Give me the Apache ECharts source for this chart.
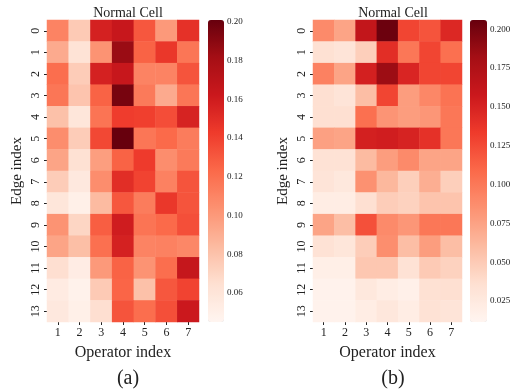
<!DOCTYPE html>
<html>
<head>
<meta charset="utf-8">
<script src="https://cdn.jsdelivr.net/npm/echarts@6/dist/echarts.min.js"></script>
<style>
  html, body { margin: 0; padding: 0; background: #fff; }
  #chart { width: 514px; height: 390px; }
</style>
</head>
<body>
<div id="chart"></div>
<script>
const operators = ['1', '2', '3', '4', '5', '6', '7'];
const edges = ['0', '1', '2', '3', '4', '5', '6', '7', '8', '9', '10', '11', '12', '13'];

// (a) rows = edge 0..13, columns = operator 1..7
const cellA = [
  [0.111, 0.076, 0.157, 0.164, 0.131, 0.100, 0.148],
  [0.092, 0.062, 0.103, 0.185, 0.126, 0.145, 0.117],
  [0.121, 0.075, 0.157, 0.164, 0.111, 0.111, 0.132],
  [0.117, 0.079, 0.126, 0.196, 0.115, 0.092, 0.117],
  [0.081, 0.059, 0.118, 0.142, 0.141, 0.135, 0.156],
  [0.106, 0.075, 0.137, 0.201, 0.117, 0.123, 0.114],
  [0.095, 0.064, 0.098, 0.126, 0.143, 0.106, 0.115],
  [0.075, 0.057, 0.106, 0.150, 0.139, 0.112, 0.132],
  [0.059, 0.050, 0.084, 0.131, 0.114, 0.145, 0.132],
  [0.103, 0.070, 0.128, 0.160, 0.118, 0.123, 0.134],
  [0.095, 0.082, 0.120, 0.157, 0.111, 0.112, 0.109],
  [0.065, 0.053, 0.100, 0.126, 0.103, 0.121, 0.165],
  [0.054, 0.048, 0.076, 0.125, 0.081, 0.131, 0.139],
  [0.057, 0.050, 0.065, 0.132, 0.121, 0.134, 0.162]
];

// (b)
const cellB = [
  [0.089, 0.074, 0.163, 0.204, 0.128, 0.120, 0.146],
  [0.035, 0.031, 0.047, 0.142, 0.101, 0.128, 0.105],
  [0.095, 0.074, 0.152, 0.185, 0.148, 0.128, 0.128],
  [0.036, 0.031, 0.058, 0.128, 0.078, 0.091, 0.103],
  [0.036, 0.036, 0.105, 0.083, 0.078, 0.082, 0.101],
  [0.076, 0.074, 0.152, 0.154, 0.150, 0.140, 0.101],
  [0.033, 0.033, 0.060, 0.078, 0.089, 0.074, 0.074],
  [0.031, 0.027, 0.085, 0.062, 0.047, 0.068, 0.047],
  [0.021, 0.021, 0.036, 0.048, 0.045, 0.054, 0.054],
  [0.074, 0.058, 0.122, 0.089, 0.082, 0.101, 0.101],
  [0.033, 0.029, 0.048, 0.087, 0.058, 0.078, 0.058],
  [0.019, 0.019, 0.052, 0.052, 0.033, 0.050, 0.045],
  [0.015, 0.015, 0.027, 0.021, 0.017, 0.035, 0.036],
  [0.015, 0.015, 0.021, 0.028, 0.021, 0.033, 0.031]
];

const rangeA = [0.045, 0.201];
const rangeB = [0.0115, 0.206];
const ticksA = [0.06, 0.08, 0.10, 0.12, 0.14, 0.16, 0.18, 0.20];
const ticksB = [0.025, 0.05, 0.075, 0.1, 0.125, 0.15, 0.175, 0.2];

const reds = ['#fff5f0', '#fee0d2', '#fcbba1', '#fc9272', '#fb6a4a', '#ef3b2c', '#cb181d', '#a50f15', '#67000d'];
const font = 'Liberation Serif, Times New Roman, serif';

function toCells(matrix) {
  const out = [];
  matrix.forEach((row, r) => {
    row.forEach((v, c) => out.push([c, r, v]));
  });
  return out;
}

const chart = echarts.init(document.getElementById('chart'), null, { renderer: 'canvas' });

const heatX = {
  type: 'category',
  data: operators,
  axisLine: { show: false },
  axisTick: { show: true, alignWithLabel: true, length: 3, lineStyle: { color: '#222' } },
  axisLabel: { color: '#222', fontFamily: font, fontSize: 12, margin: 5 },
  splitArea: { show: false },
  name: 'Operator index',
  nameLocation: 'middle',
  nameGap: 23,
  nameTextStyle: { color: '#222', fontFamily: font, fontSize: 16 }
};
const heatY = {
  type: 'category',
  data: edges,
  inverse: true,
  axisLine: { show: false },
  axisTick: { show: true, alignWithLabel: true, length: 3, lineStyle: { color: '#222' } },
  axisLabel: { color: '#222', fontFamily: font, fontSize: 12, rotate: 90, margin: 5 },
  name: 'Edge index',
  nameLocation: 'middle',
  nameGap: 22,
  nameTextStyle: { color: '#222', fontFamily: font, fontSize: 15 }
};

function barAxis(gridIndex, range, ticks, digits) {
  return {
    type: 'value',
    gridIndex: gridIndex,
    position: 'right',
    min: range[0],
    max: range[1],
    axisLine: { show: false },
    splitLine: { show: false },
    axisTick: { show: true, length: 3, lineStyle: { color: '#222' }, customValues: ticks },
    axisLabel: {
      color: '#222', fontFamily: font, fontSize: 9, margin: 3,
      customValues: ticks,
      formatter: v => v.toFixed(digits)
    }
  };
}

const option = {
  backgroundColor: '#fff',
  animation: false,
  title: [
    { text: 'Normal Cell', left: 123, top: 1, textAlign: 'center',
      textStyle: { fontFamily: font, fontSize: 14, fontWeight: 'normal', color: '#222' } },
    { text: 'Normal Cell', left: 388, top: 1, textAlign: 'center',
      textStyle: { fontFamily: font, fontSize: 14, fontWeight: 'normal', color: '#222' } },
    { text: '(a)', left: 123, top: 364, textAlign: 'center',
      textStyle: { fontFamily: font, fontSize: 20, fontWeight: 'normal', color: '#222' } },
    { text: '(b)', left: 388, top: 364, textAlign: 'center',
      textStyle: { fontFamily: font, fontSize: 20, fontWeight: 'normal', color: '#222' } }
  ],
  grid: [
    { left: 47, top: 20, width: 152, height: 302 },
    { left: 313, top: 20, width: 149, height: 302 },
    { left: 208, top: 20, width: 16, height: 302 },
    { left: 470, top: 20, width: 17, height: 302 }
  ],
  xAxis: [
    Object.assign({ gridIndex: 0 }, heatX),
    Object.assign({ gridIndex: 1 }, heatX),
    { type: 'value', gridIndex: 2, show: false },
    { type: 'value', gridIndex: 3, show: false }
  ],
  yAxis: [
    Object.assign({ gridIndex: 0 }, heatY),
    Object.assign({ gridIndex: 1 }, heatY),
    barAxis(2, rangeA, ticksA, 2),
    barAxis(3, rangeB, ticksB, 3)
  ],
  visualMap: [
    {
      type: 'continuous', seriesIndex: 0, min: rangeA[0], max: rangeA[1],
      left: 208, top: 20, itemWidth: 16, itemHeight: 302, padding: 0,
      calculable: false, text: null, showLabel: false, hoverLink: false,
      inRange: { color: reds }
    },
    {
      type: 'continuous', seriesIndex: 1, min: rangeB[0], max: rangeB[1],
      left: 470, top: 20, itemWidth: 17, itemHeight: 302, padding: 0,
      calculable: false, text: null, showLabel: false, hoverLink: false,
      inRange: { color: reds }
    }
  ],
  series: [
    { type: 'heatmap', xAxisIndex: 0, yAxisIndex: 0, data: toCells(cellA), itemStyle: { borderWidth: 0 } },
    { type: 'heatmap', xAxisIndex: 1, yAxisIndex: 1, data: toCells(cellB), itemStyle: { borderWidth: 0 } }
  ]
};

chart.setOption(option);
</script>
</body>
</html>
